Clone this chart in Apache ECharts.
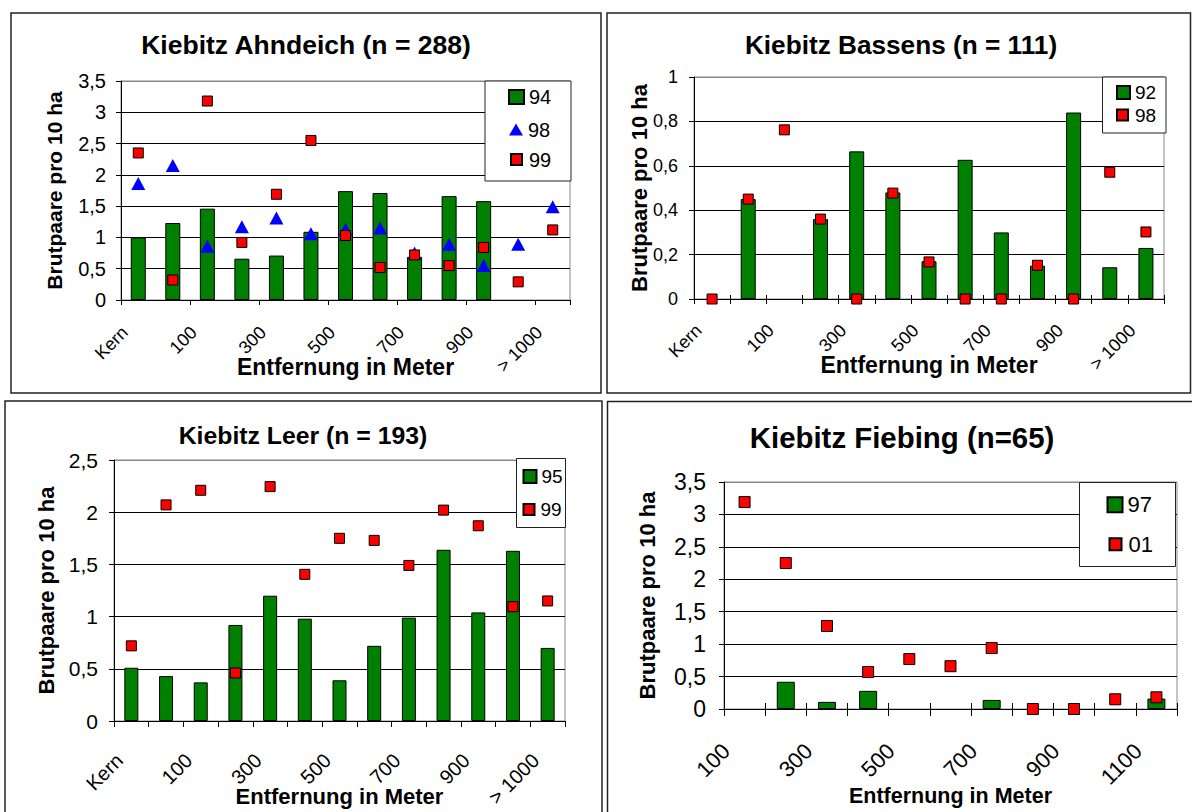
<!DOCTYPE html>
<html>
<head>
<meta charset="utf-8">
<title>Kiebitz – Brutpaardichte nach Entfernung</title>
<script src="https://cdn.jsdelivr.net/npm/echarts@6/dist/echarts.min.js"></script>
<style>
  html, body { margin: 0; padding: 0; background: #fff; }
  #chart { width: 1192px; height: 812px; }
</style>
</head>
<body>
<div id="chart"></div>
<script>
// ---- Data -------------------------------------------------------------
// Distance classes (every second label is printed on the axis)
const distanceCats = ['Kern', '50', '100', '200', '300', '400', '500', '600', '700', '800', '900', '1000', '> 1000'];
const fiebingCats = ['100', '200', '300', '400', '500', '600', '700', '800', '900', '1000', '1100'];

// Ahndeich (n = 288)
const ahndeich94 = [1.00, 1.23, 1.46, 0.66, 0.71, 1.09, 1.74, 1.71, 0.69, 1.66, 1.58, null, null];
const ahndeich98 = [1.86, 2.15, 0.86, 1.17, 1.31, 1.06, 1.13, 1.15, 0.75, 0.89, 0.55, 0.89, 1.49];
const ahndeich99 = [2.35, 0.32, 3.18, 0.92, 1.69, 2.55, 1.03, 0.52, 0.72, 0.55, 0.84, 0.29, 1.12];

// Bassens (n = 111)
const bassens92 = [null, 0.45, null, 0.36, 0.665, 0.48, 0.17, 0.627, 0.30, 0.15, 0.84, 0.143, 0.23];
const bassens98 = [0, 0.45, 0.762, 0.36, 0, 0.477, 0.167, 0, 0, 0.152, 0, 0.571, 0.302];

// Leer (n = 193)
const leer95 = [0.51, 0.43, 0.37, 0.92, 1.20, 0.98, 0.39, 0.72, 0.99, 1.64, 1.04, 1.63, 0.70];
const leer99 = [0.72, 2.07, 2.21, 0.46, 2.245, 1.405, 1.75, 1.73, 1.49, 2.02, 1.87, 1.095, 1.15];

// Fiebing (n = 65)
const fiebing97 = [null, 0.42, 0.11, 0.28, null, null, 0.14, null, null, null, 0.16];
const fiebing01 = [3.19, 2.25, 1.28, 0.57, 0.77, 0.66, 0.94, 0, 0, 0.15, 0.18];

const yTitle = 'Brutpaare pro 10 ha';
const xTitle = 'Entfernung in Meter';

// ---- Styling / layout -------------------------------------------------
const FONT = '"Liberation Sans", Arial, Helvetica, sans-serif';
const GREEN = '#008000', RED = '#FF0000', BLUE = '#0000FF';

function yLabel(v) {
  return String(Math.round(v * 10) / 10).replace('.', ',');
}

const panels = [
  {
    title: 'Kiebitz Ahndeich (n = 288)', titlePos: [306, 45], titleSize: 26.5,
    frame: [11, 13, 590, 380],
    grid: [121, 81, 449, 219],
    cats: distanceCats, yMax: 3.5, yStep: 0.5,
    tickInterval: 1, tickLen: 5, crossTicks: false,
    xFont: 18, xMargin: 16, xPad: 19, xNameFont: 23, xNameGap: 55,
    yFont: 20, yMargin: 15, yNameFont: 21, yNameGap: 56,
    barWidth: 15, sqSize: 10,
    series: [
      { name: 'Ahndeich 94', kind: 'bar', data: ahndeich94 },
      { name: 'Ahndeich 98', kind: 'tri', data: ahndeich98 },
      { name: 'Ahndeich 99', kind: 'sq', data: ahndeich99 }
    ],
    legendFont: 20,
    legendBox: [485, 81, 86, 100],
    legend: [
      { name: 'Ahndeich 94', icon: 'rect', left: 508, top: 87, w: 15, h: 14, pad: 0 },
      { name: 'Ahndeich 98', icon: 'triangle', left: 509, top: 119.5, w: 14, h: 12, pad: 0 },
      { name: 'Ahndeich 99', icon: 'rect', left: 510, top: 149.5, w: 11, h: 11, pad: 2 }
    ]
  },
  {
    title: 'Kiebitz Bassens (n = 111)', titlePos: [901, 45], titleSize: 26.2,
    frame: [607, 13, 583.5, 380],
    grid: [694, 77, 470, 222],
    cats: distanceCats, yMax: 1, yStep: 0.2,
    tickInterval: 0, tickLen: 5, crossTicks: true,
    xFont: 18, xMargin: 15, xPad: 19, xNameFont: 23, xNameGap: 54,
    yFont: 18, yMargin: 16, yNameFont: 22, yNameGap: 44,
    barWidth: 15, sqSize: 10,
    series: [
      { name: 'Bassens 92', kind: 'bar', data: bassens92 },
      { name: 'Bassens 98', kind: 'sq', data: bassens98 }
    ],
    legendFont: 19,
    legendBox: [1102.5, 77, 63.5, 56],
    legend: [
      { name: 'Bassens 92', icon: 'rect', left: 1116, top: 83, w: 13, h: 13, pad: 0 },
      { name: 'Bassens 98', icon: 'rect', left: 1116, top: 105.5, w: 11, h: 11, pad: 2 }
    ]
  },
  {
    title: 'Kiebitz Leer (n = 193)', titlePos: [303, 435], titleSize: 24.8,
    frame: [5, 401, 597, 420],
    grid: [114, 460, 451, 261],
    cats: distanceCats, yMax: 2.5, yStep: 0.5,
    tickInterval: 0, tickLen: 6, crossTicks: false,
    xFont: 20, xMargin: 24, xPad: 17, xNameFont: 22, xNameGap: 64,
    yFont: 21, yMargin: 16, yNameFont: 22, yNameGap: 57,
    barWidth: 14, sqSize: 10,
    series: [
      { name: 'Leer 95', kind: 'bar', data: leer95 },
      { name: 'Leer 99', kind: 'sq', data: leer99 }
    ],
    legendFont: 19,
    legendBox: [516.5, 458.5, 49, 69],
    legend: [
      { name: 'Leer 95', icon: 'rect', left: 522.5, top: 467, w: 13, h: 13, pad: 0 },
      { name: 'Leer 99', icon: 'rect', left: 522.5, top: 500, w: 11, h: 11, pad: 1 }
    ]
  },
  {
    title: 'Kiebitz Fiebing (n=65)', titlePos: [902, 437], titleSize: 29.4,
    frame: [607.5, 401.5, 600, 420],
    grid: [724, 482, 453, 227],
    cats: fiebingCats, yMax: 3.5, yStep: 0.5,
    tickInterval: 0, tickLen: 7, crossTicks: true,
    xFont: 22, xMargin: 20, xPad: 26, xNameFont: 21.5, xNameGap: 76,
    yFont: 23, yMargin: 18, yNameFont: 22, yNameGap: 66,
    barWidth: 18, sqSize: 11,
    series: [
      { name: 'Fiebing 97', kind: 'bar', data: fiebing97 },
      { name: 'Fiebing 01', kind: 'sq', data: fiebing01 }
    ],
    legendFont: 22,
    legendBox: [1079.5, 482.5, 96, 84],
    legend: [
      { name: 'Fiebing 97', icon: 'rect', left: 1106.5, top: 493.8, w: 15, h: 15, pad: 0 },
      { name: 'Fiebing 01', icon: 'rect', left: 1108.5, top: 533.2, w: 12, h: 12, pad: 2 }
    ]
  }
];

// ---- Option assembly --------------------------------------------------
const option = {
  animation: false,
  backgroundColor: '#fff',
  textStyle: { fontFamily: FONT },
  grid: [], xAxis: [], yAxis: [], series: [], legend: [],
  graphic: { elements: [] }
};

panels.forEach(function (p, i) {
  option.grid.push({
    left: p.grid[0], top: p.grid[1], width: p.grid[2], height: p.grid[3],
    show: true, borderColor: '#888', borderWidth: 1, backgroundColor: 'transparent',
    containLabel: false, outerBoundsMode: 'none'
  });

  const xi = option.xAxis.length;
  option.xAxis.push({
    gridIndex: i, type: 'category', data: p.cats, boundaryGap: true, position: 'bottom',
    axisLine: { show: true, onZero: false, lineStyle: { color: '#000', width: 1 } },
    axisTick: { show: true, interval: p.tickInterval, length: p.tickLen, lineStyle: { color: '#000', width: 1 } },
    axisLabel: {
      show: true, interval: 1, rotate: 45, fontSize: p.xFont, color: '#000',
      margin: p.xMargin, padding: [0, p.xPad, 0, 0], fontFamily: FONT, hideOverlap: false
    },
    splitLine: { show: false },
    name: xTitle, nameLocation: 'middle', nameGap: p.xNameGap, nameMoveOverlap: false,
    nameTextStyle: { fontSize: p.xNameFont, fontWeight: 'bold', color: '#000', fontFamily: FONT }
  });
  if (p.crossTicks) {
    // inner half of the ticks that cross the category axis
    option.xAxis.push({
      gridIndex: i, type: 'category', data: p.cats, boundaryGap: true, position: 'bottom',
      axisLine: { show: false, onZero: false },
      axisTick: { show: true, inside: true, interval: p.tickInterval, length: p.tickLen - 1, lineStyle: { color: '#000', width: 1 } },
      axisLabel: { show: false }, splitLine: { show: false }
    });
  }

  const nLines = Math.round(p.yMax / p.yStep) + 1;
  const lineColors = [];
  for (let k = 0; k < nLines; k++) lineColors.push(k === nLines - 1 ? '#888' : '#000');

  option.yAxis.push({
    gridIndex: i, type: 'value', min: 0, max: p.yMax, interval: p.yStep,
    axisLine: { show: true, lineStyle: { color: '#000', width: 1 } },
    axisTick: { show: true, length: 5, lineStyle: { color: '#000', width: 1 } },
    axisLabel: { fontSize: p.yFont, color: '#000', margin: p.yMargin, formatter: yLabel, fontFamily: FONT },
    splitLine: { show: true, lineStyle: { color: lineColors, width: 1 } },
    name: yTitle, nameLocation: 'middle', nameGap: p.yNameGap, nameMoveOverlap: false,
    nameTextStyle: { fontSize: p.yNameFont, fontWeight: 'bold', color: '#000', fontFamily: FONT }
  });

  p.series.forEach(function (s) {
    const base = { name: s.name, xAxisIndex: xi, yAxisIndex: i, data: s.data, emphasis: { disabled: true }, silent: true };
    if (s.kind === 'bar') {
      option.series.push(Object.assign(base, {
        type: 'bar', barWidth: p.barWidth, z: 2,
        itemStyle: { color: GREEN, borderColor: '#000', borderWidth: 1 }
      }));
    } else if (s.kind === 'tri') {
      option.series.push(Object.assign(base, {
        type: 'scatter', symbol: 'triangle', symbolSize: [14, 13], z: 3,
        itemStyle: { color: BLUE, opacity: 1 }
      }));
    } else {
      option.series.push(Object.assign(base, {
        type: 'scatter', symbol: 'rect', symbolSize: p.sqSize, z: 4,
        itemStyle: { color: RED, borderColor: '#000', borderWidth: 1, opacity: 1 }
      }));
    }
  });

  p.legend.forEach(function (l) {
    option.legend.push({
      show: true, orient: 'vertical', left: l.left, top: l.top, padding: 0, itemGap: 0,
      itemWidth: l.w, itemHeight: l.h, selectedMode: false, z: 6,
      data: [{ name: l.name, icon: l.icon }],
      formatter: function (n) { return n.split(' ').pop(); },
      textStyle: { fontSize: p.legendFont, color: '#000', fontFamily: FONT, padding: [0, 0, 0, l.pad] }
    });
  });

  const b = p.legendBox;
  option.graphic.elements.push({
    type: 'rect', silent: true, z: 5,
    shape: { x: b[0], y: b[1], width: b[2], height: b[3] },
    style: { fill: '#fff', stroke: '#222', lineWidth: 1 }
  });

  const f = p.frame;
  option.graphic.elements.push({
    type: 'rect', silent: true, z: 10,
    shape: { x: f[0], y: f[1], width: f[2], height: f[3] },
    style: { fill: 'none', stroke: '#222', lineWidth: 1.5 }
  });

  option.graphic.elements.push({
    type: 'text', silent: true, z: 10, x: p.titlePos[0], y: p.titlePos[1],
    style: {
      text: p.title, fill: '#000', font: 'bold ' + p.titleSize + 'px ' + FONT,
      align: 'center', verticalAlign: 'middle', textAlign: 'center', textVerticalAlign: 'middle'
    }
  });
});

const chart = echarts.init(document.getElementById('chart'), null, { renderer: 'svg', width: 1192, height: 812 });
chart.setOption(option);
</script>
</body>
</html>
